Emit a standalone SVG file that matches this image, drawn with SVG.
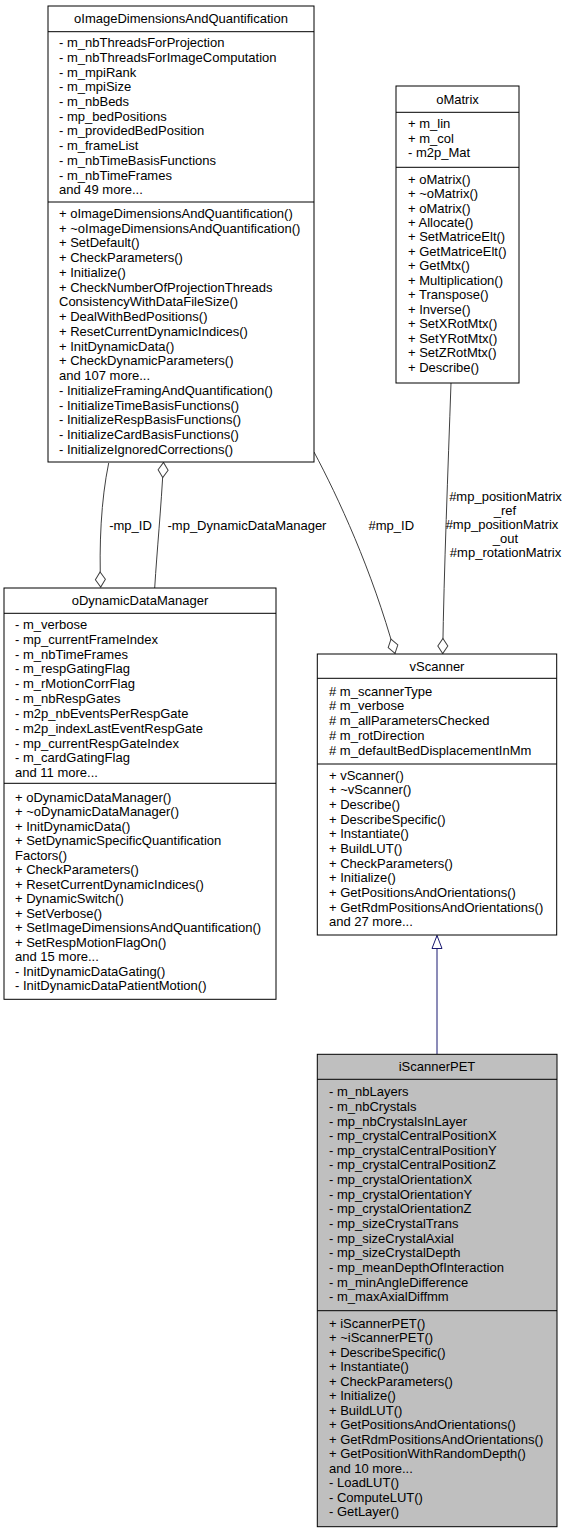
<svg xmlns="http://www.w3.org/2000/svg" width="571" height="1533" viewBox="0 0 571 1533">
<style>
text{font-family:"Liberation Sans",Arial,Helvetica,sans-serif;font-size:13px;fill:#000}
.c{text-anchor:middle}
.box{fill:#fff;stroke:#000;stroke-width:1}
.grey{fill:#bfbfbf}
.sep{stroke:#000;stroke-width:1}
.e{fill:none;stroke:#404040;stroke-width:1}
.inh{fill:none;stroke:#191970;stroke-width:1}
</style>
<defs>
<marker id="dia" viewBox="0 0 15 10" refX="15" refY="5" markerWidth="15" markerHeight="10" orient="auto" markerUnits="userSpaceOnUse" style="overflow:visible">
<path d="M0,5 L7.5,0 L15,5 L7.5,10 Z" fill="#fff" stroke="#404040" stroke-width="1"/>
</marker>
<marker id="tri" viewBox="0 0 13 10" refX="13" refY="5" markerWidth="13" markerHeight="10" orient="auto" markerUnits="userSpaceOnUse" style="overflow:visible">
<path d="M0,0 L13,5 L0,10 Z" fill="#fff" stroke="#191970" stroke-width="1"/>
</marker>
</defs>
<rect width="571" height="1533" fill="#fff"/>

<g id="edges">
<path class="e" d="M108.7,463 C101,500 99,545 100.7,587" marker-end="url(#dia)"/>
<path class="e" d="M154.7,588 C157,550 161,510 163.5,462.5" marker-end="url(#dia)"/>
<path class="e" d="M314,452 C338,497 372,570 395,653.5" marker-end="url(#dia)"/>
<path class="e" d="M451,383 C448,470 444,570 442.7,653.5" marker-end="url(#dia)"/>
<path class="inh" d="M437,1054 L437,935.5" marker-end="url(#tri)"/>
<text class="c" x="130.5" y="529.5">-mp_ID</text>
<text x="167.5" y="529.5">-mp_DynamicDataManager</text>
<text x="368.5" y="529.5">#mp_ID</text>
<text class="c" x="505.5" y="500.5">#mp_positionMatrix</text>
<text class="c" x="505" y="515">_ref</text>
<text class="c" x="502" y="529">#mp_positionMatrix</text>
<text class="c" x="505.5" y="543">_out</text>
<text class="c" x="505.5" y="557">#mp_rotationMatrix</text>
</g>

<g id="oImageDimensionsAndQuantification">
<rect class="box" x="48" y="6" width="266" height="456"/>
<line class="sep" x1="48" y1="31.7" x2="314" y2="31.7"/>
<line class="sep" x1="48" y1="202" x2="314" y2="202"/>
<text class="c" x="181" y="22.5">oImageDimensionsAndQuantification</text>
<text x="59" y="47.2">- m_nbThreadsForProjection</text>
<text x="59" y="61.9">- m_nbThreadsForImageComputation</text>
<text x="59" y="76.6">- m_mpiRank</text>
<text x="59" y="91.3">- m_mpiSize</text>
<text x="59" y="106">- m_nbBeds</text>
<text x="59" y="120.7">- mp_bedPositions</text>
<text x="59" y="135.4">- m_providedBedPosition</text>
<text x="59" y="150.1">- m_frameList</text>
<text x="59" y="164.8">- m_nbTimeBasisFunctions</text>
<text x="59" y="179.5">- m_nbTimeFrames</text>
<text x="59" y="194.2">and 49 more...</text>
<text x="59" y="217.8">+ oImageDimensionsAndQuantification()</text>
<text x="59" y="232.6">+ ~oImageDimensionsAndQuantification()</text>
<text x="59" y="247.3">+ SetDefault()</text>
<text x="59" y="262.1">+ CheckParameters()</text>
<text x="59" y="276.8">+ Initialize()</text>
<text x="59" y="291.6">+ CheckNumberOfProjectionThreads</text>
<text x="59" y="306.3">ConsistencyWithDataFileSize()</text>
<text x="59" y="321.1">+ DealWithBedPositions()</text>
<text x="59" y="335.8">+ ResetCurrentDynamicIndices()</text>
<text x="59" y="350.6">+ InitDynamicData()</text>
<text x="59" y="365.3">+ CheckDynamicParameters()</text>
<text x="59" y="380.1">and 107 more...</text>
<text x="59" y="394.8">- InitializeFramingAndQuantification()</text>
<text x="59" y="409.6">- InitializeTimeBasisFunctions()</text>
<text x="59" y="424.3">- InitializeRespBasisFunctions()</text>
<text x="59" y="439.1">- InitializeCardBasisFunctions()</text>
<text x="59" y="453.8">- InitializeIgnoredCorrections()</text>
</g>

<g id="oMatrix">
<rect class="box" x="396" y="86" width="123" height="297"/>
<line class="sep" x1="396" y1="112.3" x2="519" y2="112.3"/>
<line class="sep" x1="396" y1="167.3" x2="519" y2="167.3"/>
<text class="c" x="457.5" y="103.5">oMatrix</text>
<text x="408" y="127.8">+ m_lin</text>
<text x="408" y="142.5">+ m_col</text>
<text x="408" y="157.2">- m2p_Mat</text>
<text x="408" y="183.5">+ oMatrix()</text>
<text x="408" y="198">+ ~oMatrix()</text>
<text x="408" y="212.5">+ oMatrix()</text>
<text x="408" y="226.9">+ Allocate()</text>
<text x="408" y="241.4">+ SetMatriceElt()</text>
<text x="408" y="255.9">+ GetMatriceElt()</text>
<text x="408" y="270.4">+ GetMtx()</text>
<text x="408" y="284.9">+ Multiplication()</text>
<text x="408" y="299.3">+ Transpose()</text>
<text x="408" y="313.8">+ Inverse()</text>
<text x="408" y="328.3">+ SetXRotMtx()</text>
<text x="408" y="342.8">+ SetYRotMtx()</text>
<text x="408" y="357.3">+ SetZRotMtx()</text>
<text x="408" y="371.7">+ Describe()</text>
</g>

<g id="oDynamicDataManager">
<rect class="box" x="4" y="588" width="272" height="411.3"/>
<line class="sep" x1="4" y1="613.3" x2="276" y2="613.3"/>
<line class="sep" x1="4" y1="783.3" x2="276" y2="783.3"/>
<text class="c" x="140" y="604.5">oDynamicDataManager</text>
<text x="15" y="628.8">- m_verbose</text>
<text x="15" y="643.6">- mp_currentFrameIndex</text>
<text x="15" y="658.5">- m_nbTimeFrames</text>
<text x="15" y="673.3">- m_respGatingFlag</text>
<text x="15" y="688.2">- m_rMotionCorrFlag</text>
<text x="15" y="703">- m_nbRespGates</text>
<text x="15" y="717.8">- m2p_nbEventsPerRespGate</text>
<text x="15" y="732.7">- m2p_indexLastEventRespGate</text>
<text x="15" y="747.5">- mp_currentRespGateIndex</text>
<text x="15" y="762.4">- m_cardGatingFlag</text>
<text x="15" y="777.2">and 11 more...</text>
<text x="15" y="801.5">+ oDynamicDataManager()</text>
<text x="15" y="816">+ ~oDynamicDataManager()</text>
<text x="15" y="830.5">+ InitDynamicData()</text>
<text x="15" y="845">+ SetDynamicSpecificQuantification</text>
<text x="15" y="859.5">Factors()</text>
<text x="15" y="874">+ CheckParameters()</text>
<text x="15" y="888.5">+ ResetCurrentDynamicIndices()</text>
<text x="15" y="903">+ DynamicSwitch()</text>
<text x="15" y="917.5">+ SetVerbose()</text>
<text x="15" y="932">+ SetImageDimensionsAndQuantification()</text>
<text x="15" y="946.5">+ SetRespMotionFlagOn()</text>
<text x="15" y="961">and 15 more...</text>
<text x="15" y="975.5">- InitDynamicDataGating()</text>
<text x="15" y="990">- InitDynamicDataPatientMotion()</text>
</g>

<g id="vScanner">
<rect class="box" x="317.3" y="654" width="239.4" height="281"/>
<line class="sep" x1="317.3" y1="678.3" x2="556.7" y2="678.3"/>
<line class="sep" x1="317.3" y1="764" x2="556.7" y2="764"/>
<text class="c" x="437" y="670.5">vScanner</text>
<text x="329" y="695.5"># m_scannerType</text>
<text x="329" y="710.3"># m_verbose</text>
<text x="329" y="725"># m_allParametersChecked</text>
<text x="329" y="739.8"># m_rotDirection</text>
<text x="329" y="754.5"># m_defaultBedDisplacementInMm</text>
<text x="329" y="779.5">+ vScanner()</text>
<text x="329" y="794.2">+ ~vScanner()</text>
<text x="329" y="808.8">+ Describe()</text>
<text x="329" y="823.5">+ DescribeSpecific()</text>
<text x="329" y="838.2">+ Instantiate()</text>
<text x="329" y="852.9">+ BuildLUT()</text>
<text x="329" y="867.5">+ CheckParameters()</text>
<text x="329" y="882.2">+ Initialize()</text>
<text x="329" y="896.9">+ GetPositionsAndOrientations()</text>
<text x="329" y="911.5">+ GetRdmPositionsAndOrientations()</text>
<text x="329" y="926.2">and 27 more...</text>
</g>

<g id="iScannerPET">
<rect class="box grey" x="317.3" y="1054.3" width="239.7" height="472.4"/>
<line class="sep" x1="317.3" y1="1079.3" x2="557" y2="1079.3"/>
<line class="sep" x1="317.3" y1="1310.7" x2="557" y2="1310.7"/>
<text class="c" x="437" y="1071.2">iScannerPET</text>
<text x="329" y="1096.2">- m_nbLayers</text>
<text x="329" y="1110.8">- m_nbCrystals</text>
<text x="329" y="1125.5">- mp_nbCrystalsInLayer</text>
<text x="329" y="1140.1">- mp_crystalCentralPositionX</text>
<text x="329" y="1154.8">- mp_crystalCentralPositionY</text>
<text x="329" y="1169.4">- mp_crystalCentralPositionZ</text>
<text x="329" y="1184">- mp_crystalOrientationX</text>
<text x="329" y="1198.7">- mp_crystalOrientationY</text>
<text x="329" y="1213.3">- mp_crystalOrientationZ</text>
<text x="329" y="1228">- mp_sizeCrystalTrans</text>
<text x="329" y="1242.6">- mp_sizeCrystalAxial</text>
<text x="329" y="1257.2">- mp_sizeCrystalDepth</text>
<text x="329" y="1271.9">- mp_meanDepthOfInteraction</text>
<text x="329" y="1286.5">- m_minAngleDifference</text>
<text x="329" y="1301.2">- m_maxAxialDiffmm</text>
<text x="329" y="1327.8">+ iScannerPET()</text>
<text x="329" y="1342.3">+ ~iScannerPET()</text>
<text x="329" y="1356.8">+ DescribeSpecific()</text>
<text x="329" y="1371.3">+ Instantiate()</text>
<text x="329" y="1385.8">+ CheckParameters()</text>
<text x="329" y="1400.3">+ Initialize()</text>
<text x="329" y="1414.8">+ BuildLUT()</text>
<text x="329" y="1429.3">+ GetPositionsAndOrientations()</text>
<text x="329" y="1443.8">+ GetRdmPositionsAndOrientations()</text>
<text x="329" y="1458.3">+ GetPositionWithRandomDepth()</text>
<text x="329" y="1472.8">and 10 more...</text>
<text x="329" y="1487.3">- LoadLUT()</text>
<text x="329" y="1501.8">- ComputeLUT()</text>
<text x="329" y="1516.3">- GetLayer()</text>
</g>
</svg>
